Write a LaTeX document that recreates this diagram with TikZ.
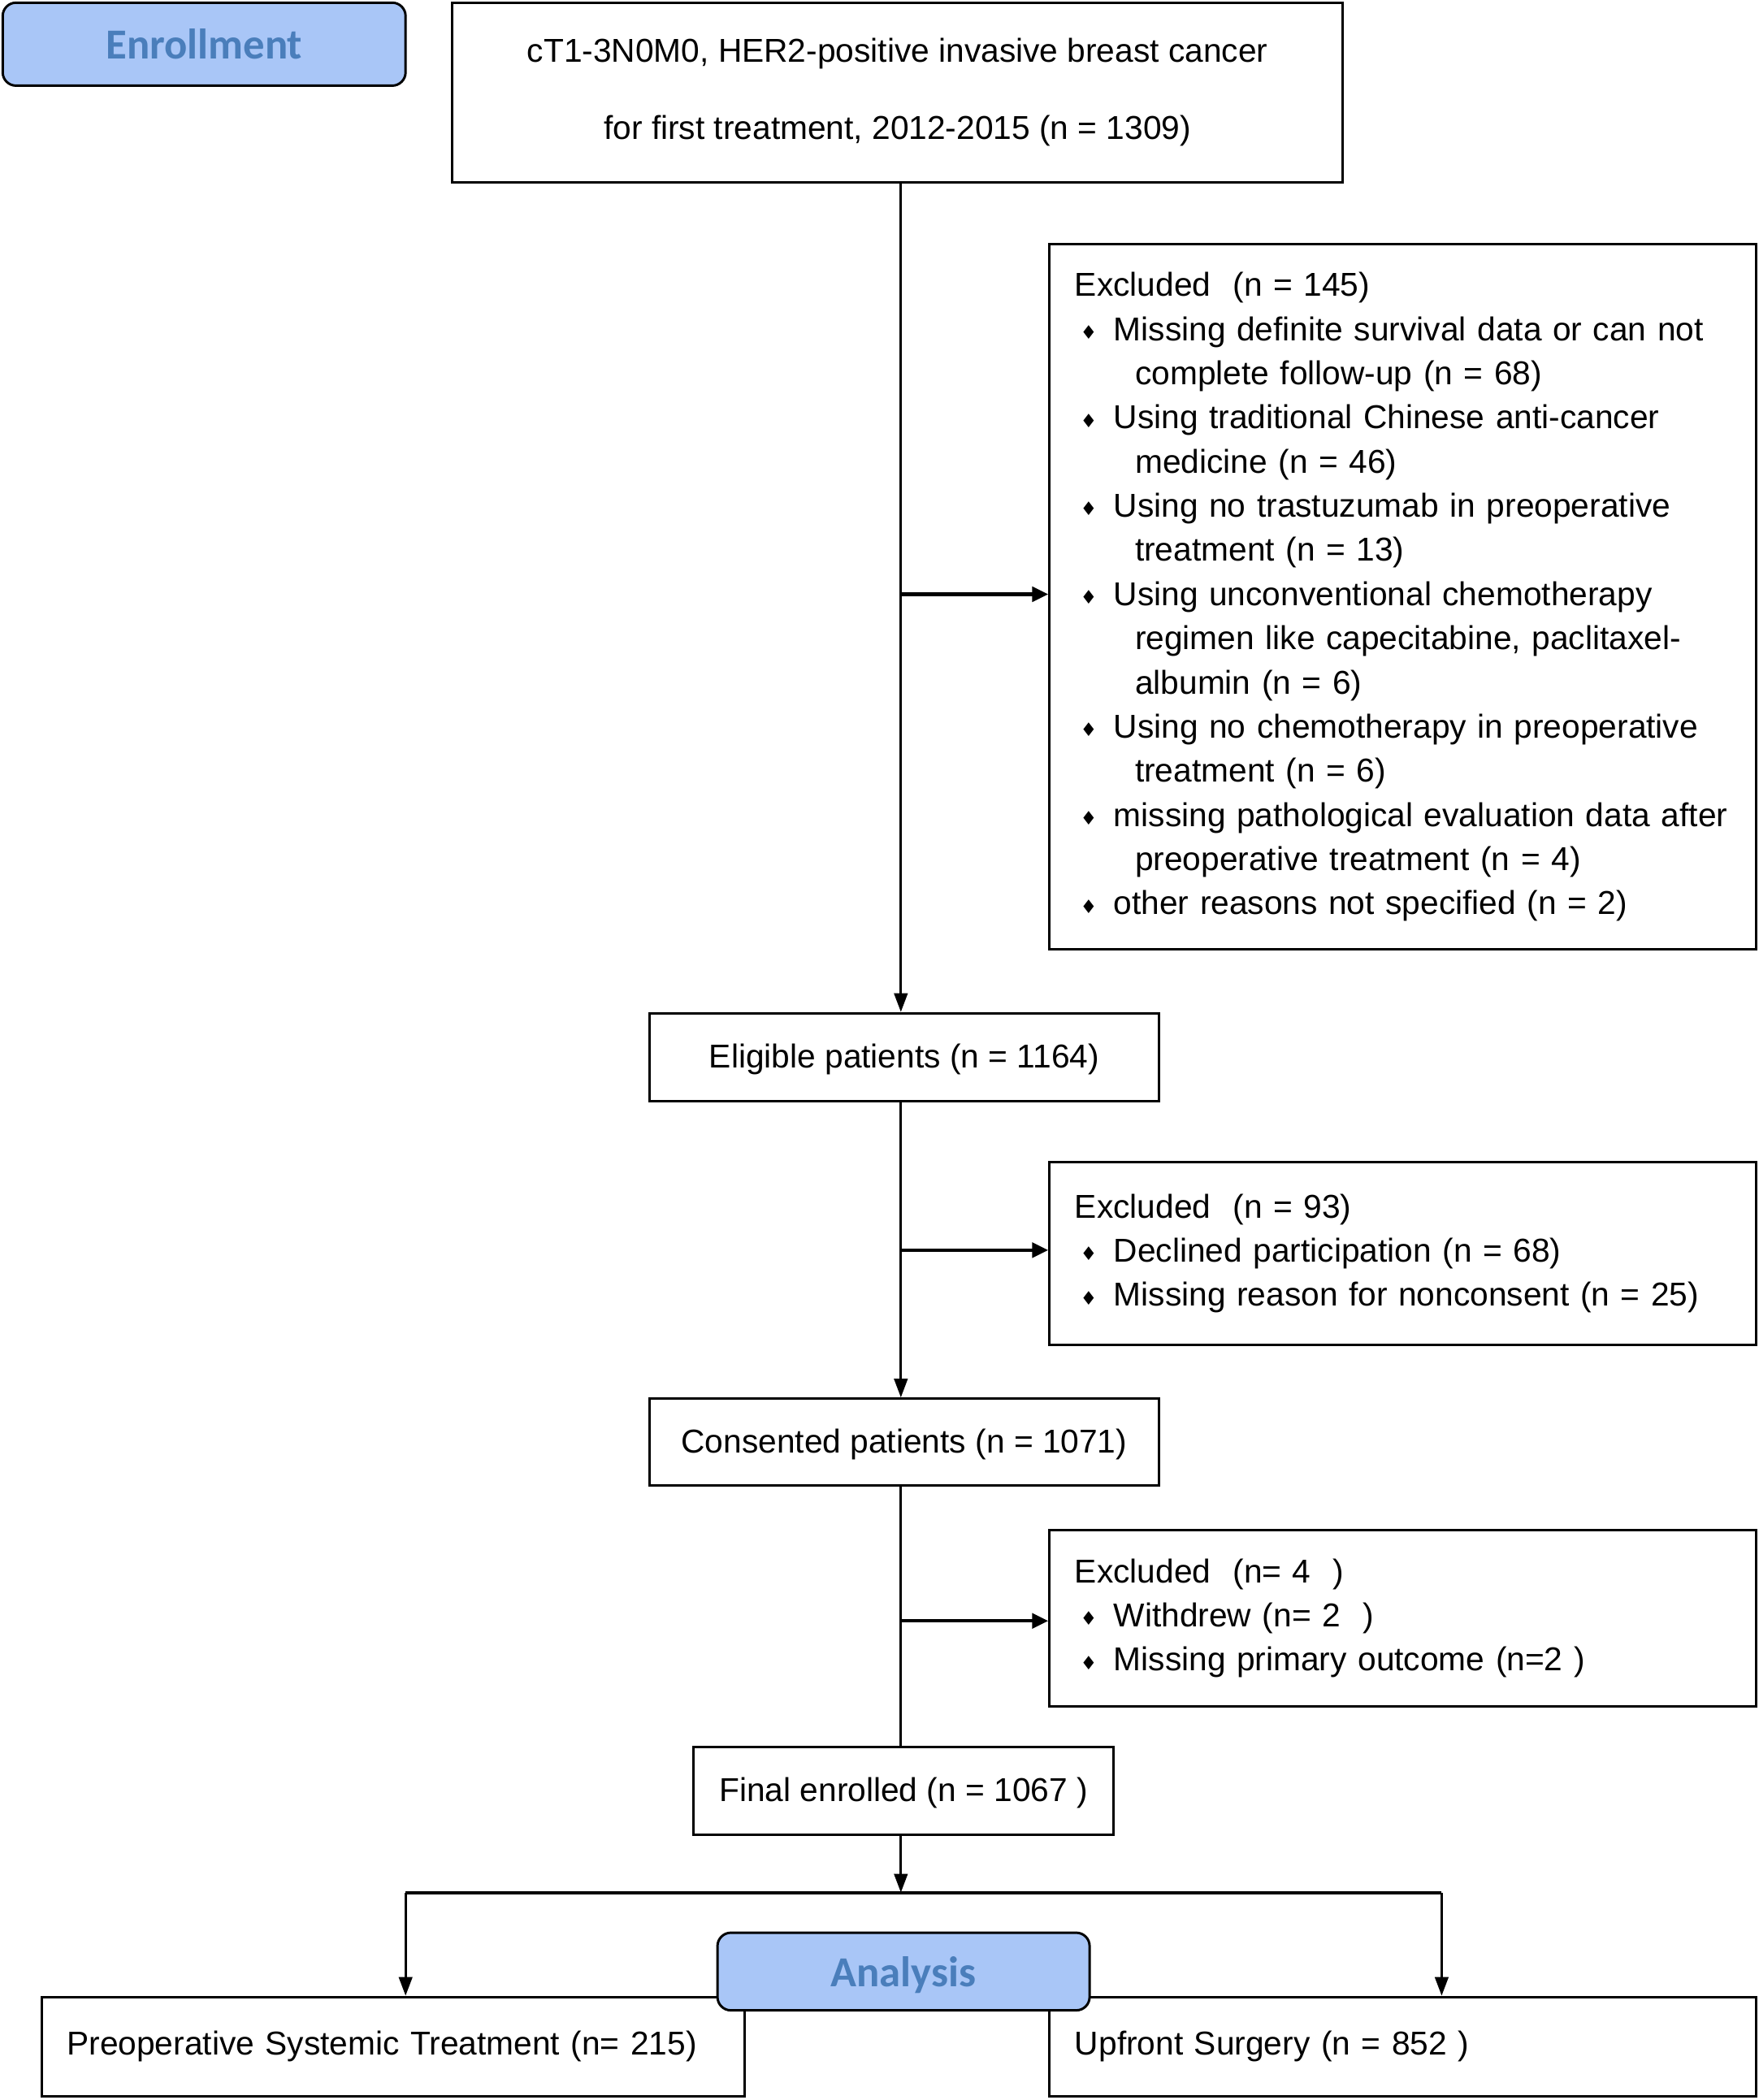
\documentclass[tikz,border=0pt]{standalone}
\usepackage{fontspec}
\setmainfont{Liberation Sans}
\newfontfamily\calib{Carlito}
\newfontfamily\symf{DejaVu Sans}
\usetikzlibrary{arrows.meta,calc}
\definecolor{hdrfill}{HTML}{A9C6F7}
\definecolor{hdrtext}{HTML}{4A7EBB}
\newcommand{\bul}{\makebox[29pt][l]{\hspace{4pt}\raisebox{1pt}{\symf\fontsize{14}{14}\selectfont ♦}}}
\newcommand{\ind}{\hspace*{45pt}}
\begin{document}
\begin{tikzpicture}[x=1pt,y=-1pt,
 box/.style={draw, line width=1.8pt, rectangle, inner sep=0pt, font=\fontsize{24.7}{33}\selectfont},
 exbox/.style={box, align=left, text width=490pt, inner xsep=19pt},
 hdr/.style={draw, line width=1.8pt, rounded corners=10pt, fill=hdrfill, text=hdrtext, inner sep=0pt, text depth=0pt, font=\calib\bfseries\fontsize{32}{32}\selectfont},
 conn/.style={line width=1.8pt},
 arr/.style={conn, -{Triangle[length=14pt,width=10pt]}},
 harr/.style={line width=2.6pt, -{Triangle[length=12pt,width=11pt]}},
]
\useasboundingbox (0,0) rectangle (1314,1569);
\coordinate (spine) at (673,0);

\node[hdr, minimum width=301pt, minimum height=62pt] (enr) at (152.5,33) {Enrollment};

\node[box, align=center, minimum width=665pt, minimum height=134pt, font=\fontsize{24.7}{58}\selectfont] (top) at (670.5,69)
 {cT1-3N0M0, HER2-positive invasive breast cancer\\for first treatment, 2012-2015 (n = 1309)};

\node[exbox, minimum height=527pt] (ex1) at (1048,446) {Excluded\ \ (n = 145)\\
\bul Missing definite survival data or can not\\
\ind complete follow-up (n = 68)\\
\bul Using traditional Chinese anti-cancer\\
\ind medicine (n = 46)\\
\bul Using no trastuzumab in preoperative\\
\ind treatment (n = 13)\\
\bul Using unconventional chemotherapy\\
\ind regimen like capecitabine, paclitaxel-\\
\ind albumin (n = 6)\\
\bul Using no chemotherapy in preoperative\\
\ind treatment (n = 6)\\
\bul missing pathological evaluation data after\\
\ind preoperative treatment (n = 4)\\
\bul other reasons not specified (n = 2)};

\node[box, minimum width=381pt, minimum height=66pt, text depth=2pt] (elig) at (675.5,790) {Eligible patients (n = 1164)};

\node[exbox, minimum height=137pt] (ex2) at (1048,936.5) {Excluded\ \ (n = 93)\\
\bul Declined participation (n = 68)\\
\bul Missing reason for nonconsent (n = 25)};

\node[box, minimum width=381pt, minimum height=65pt, text depth=2pt] (cons) at (675.5,1077.5) {Consented patients (n = 1071)};

\node[exbox, minimum height=132pt] (ex3) at (1048,1209) {Excluded\ \ (n= 4\ \ )\\
\bul Withdrew (n= 2\ \ )\\
\bul Missing primary outcome (n=2 )};

\node[box, minimum width=314pt, minimum height=66pt, text depth=2pt] (fin) at (675,1338) {Final enrolled (n = 1067 )};

\node[box, align=left, text width=487pt, inner xsep=19pt, minimum height=74pt] (pst) at (293.5,1529) {Preoperative Systemic Treatment (n= 215)};
\node[box, align=left, text width=490pt, inner xsep=19pt, minimum height=74pt] (ufs) at (1048,1529) {Upfront Surgery (n = 852 )};

\coordinate (b1) at (673,444);
\coordinate (b2) at (673,934);
\coordinate (b3) at (673,1211);
\coordinate (split) at (673,1414);
\coordinate (sl) at (303,1414);
\coordinate (sr) at (1077,1414);

\draw[arr] (top.south -| spine) -- (elig.north -| spine);
\draw[harr] (b1) -- (b1 -| ex1.west);
\draw[arr] (elig.south -| spine) -- (cons.north -| spine);
\draw[harr] (b2) -- (b2 -| ex2.west);
\draw[conn] (cons.south -| spine) -- (fin.north -| spine);
\draw[harr] (b3) -- (b3 -| ex3.west);
\draw[arr] (fin.south -| spine) -- (split);
\draw[line width=2.6pt] (sl) -- (sr);
\draw[arr] (sl) -- (sl |- pst.north);
\draw[arr] (sr) -- (sr |- ufs.north);

\node[hdr, minimum width=278pt, minimum height=58pt] (ana) at (675,1473) {Analysis};
\end{tikzpicture}
\end{document}
